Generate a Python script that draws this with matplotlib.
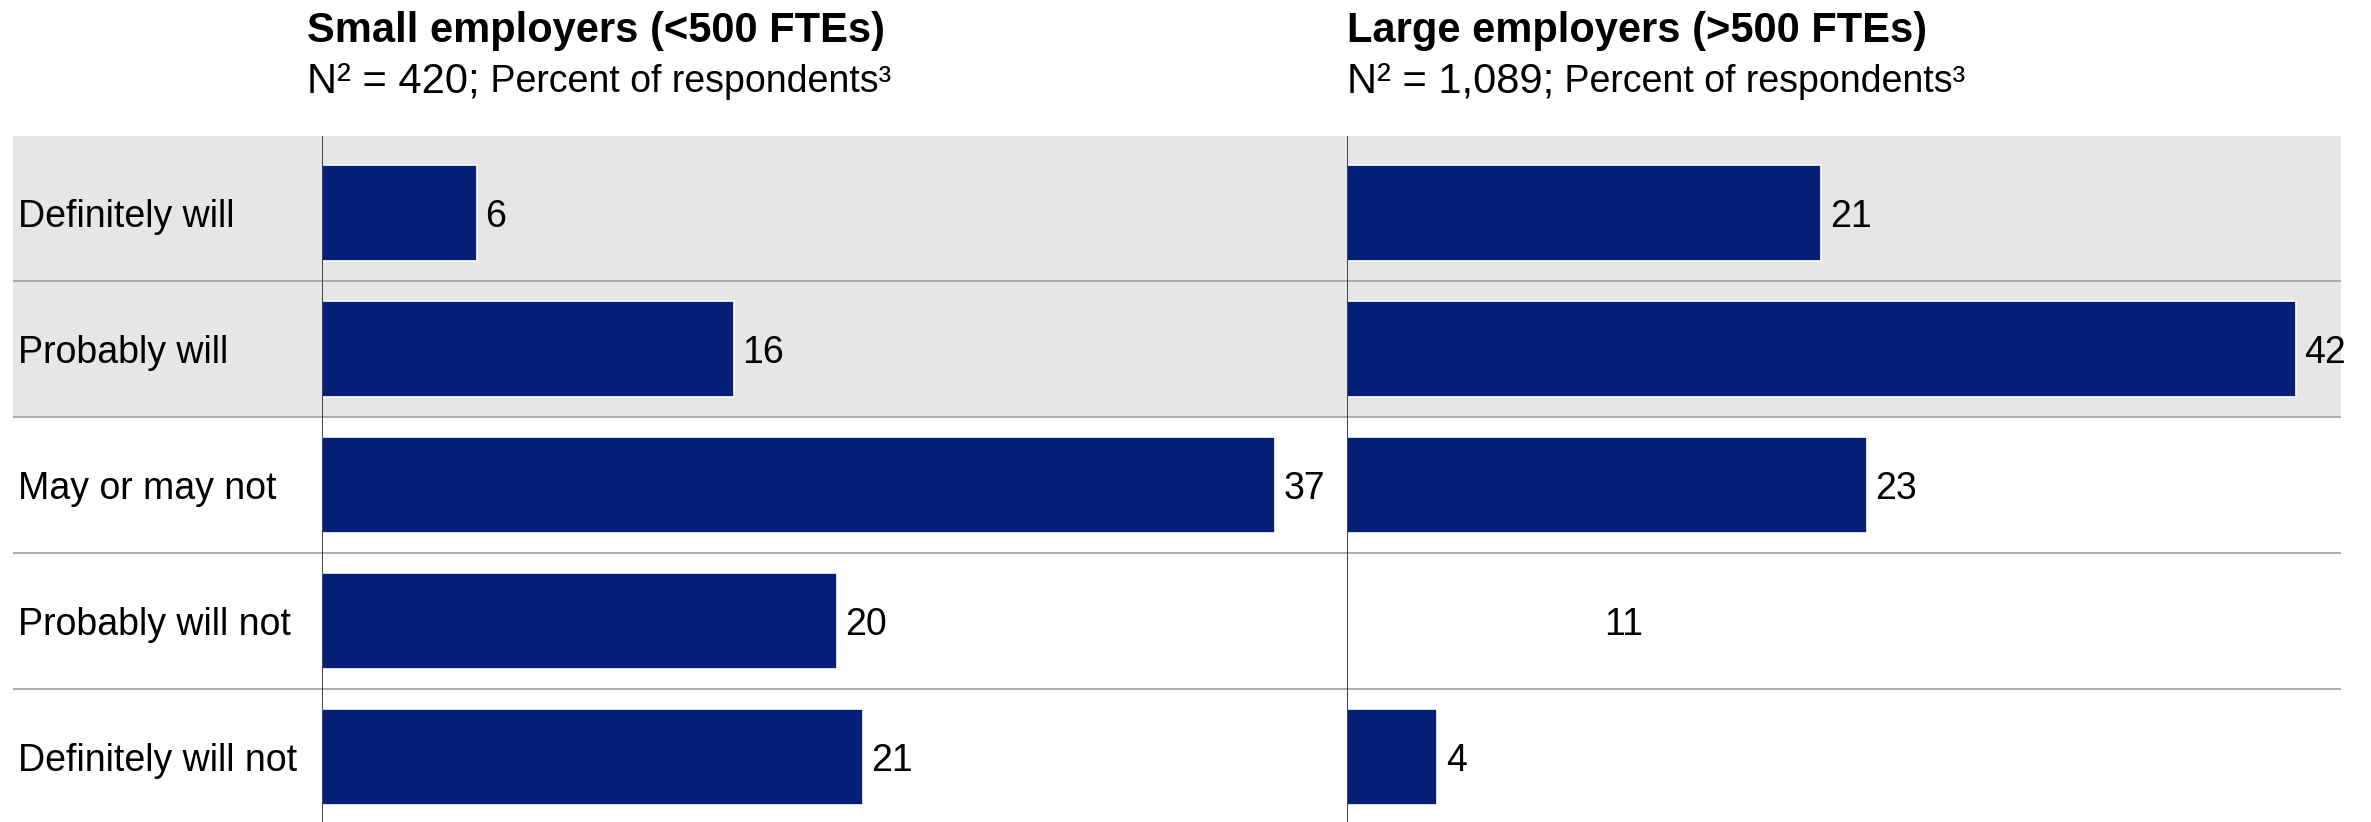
import matplotlib
matplotlib.use('Agg')
import matplotlib.pyplot as plt

# data
categories = ['Definitely will', 'Probably will', 'May or may not',
              'Probably will not', 'Definitely will not']
small_vals = [6, 16, 37, 20, 21]
large_vals = [21, 42, 23, 11, 4]
small_title = 'Small employers (<500 FTEs)'
large_title = 'Large employers (>500 FTEs)'
small_n = 'N² = 420;'
large_n = 'N² = 1,089;'
sub_rest = ' Percent of respondents³'

plt.rcParams['font.family'] = ['Liberation Sans', 'DejaVu Sans']

W, H = 2371, 822
NAVY = '#061f78'
BAND = '#e6e6e6'
SEP = '#a6a6a6'

fig = plt.figure(figsize=(W / 100, H / 100), dpi=100)


def px_axes(x0, y0, x1, y1):
    # pixel box (top-left origin) -> figure axes
    return fig.add_axes([x0 / W, 1 - y1 / H, (x1 - x0) / W, (y1 - y0) / H])


ylim = (4.478, -0.566)

# background: grey band, row separators, category labels
bg = px_axes(13, 136, 2341, 822)
bg.set_xlim(0, 1)
bg.set_ylim(*ylim)
bg.axhspan(ylim[1], 1.5, color=BAND, lw=0)
for i in range(len(categories) - 1):
    bg.axhline(i + 0.5, color=SEP, lw=1.3)
for i, c in enumerate(categories):
    bg.text(0.002, i, c, ha='left', va='center_baseline', fontsize=27)
bg.axis('off')

panels = [
    (322, 1347, 39.8, small_vals, small_title, small_n),
    (1347, 2341, 44.0, large_vals, large_title, large_n),
]
for pi, (x0, x1, xmax, vals, title, ntxt) in enumerate(panels):
    ax = px_axes(x0, 136, x1, 822)
    ax.set_xlim(0, xmax)
    ax.set_ylim(*ylim)
    colors = [NAVY] * len(vals)
    if pi == 1:
        colors[3] = 'white'   # this bar is blank in the source chart
    ax.barh(range(len(vals)), vals, height=0.71, color=colors,
            edgecolor='white', lw=1.2)
    for i, v in enumerate(vals):
        ax.annotate(str(v), xy=(v, i), xytext=(6, 0), textcoords='offset points',
                    ha='left', va='center_baseline', fontsize=27)
    ax.axvline(0, color='#333333', lw=1.3)
    ax.axis('off')

    tx = (x0 - 15 if pi == 0 else x0) / W
    fig.text(tx, 1 - 42 / H, title, fontsize=30, fontweight='bold',
             ha='left', va='baseline')
    t1 = fig.text(tx, 1 - 92 / H, ntxt, fontsize=30, ha='left', va='baseline')
    bb = t1.get_window_extent(renderer=fig.canvas.get_renderer())
    fig.text(bb.x1 / W, 1 - 92 / H, sub_rest, fontsize=27,
             ha='left', va='baseline')

fig.savefig('out.png', dpi=100)
